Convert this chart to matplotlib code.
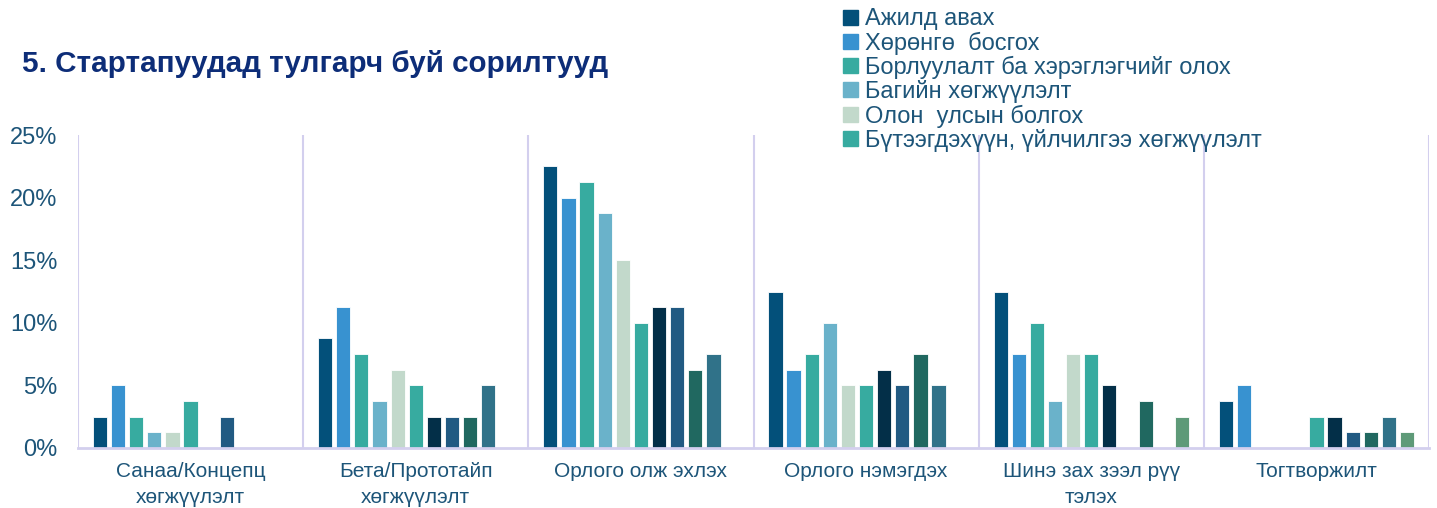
import numpy as np
import matplotlib
matplotlib.use("Agg")
import matplotlib.pyplot as plt
from matplotlib.patches import Patch

plt.rcParams['font.family'] = ['Liberation Sans', 'DejaVu Sans']

categories = ["Санаа/Концепц\nхөгжүүлэлт", "Бета/Прототайп\nхөгжүүлэлт", "Орлого олж эхлэх",
              "Орлого нэмэгдэх", "Шинэ зах зээл рүү\nтэлэх", "Тогтворжилт"]

series_names = ["Ажилд авах", "Хөрөнгө  босгох", "Борлуулалт ба хэрэглэгчийг олох",
                "Багийн хөгжүүлэлт", "Олон  улсын болгох", "Бүтээгдэхүүн, үйлчилгээ хөгжүүлэлт",
                "s7", "s8", "s9", "s10", "s11"]

colors_list = ["#03507A", "#3892D0", "#37ABA0", "#6AB2CA", "#C2D9CB", "#37ABA0",
               "#032F48", "#215A82", "#206860", "#307289", "#5E9A78"]

# values in %, one list per group (11 series each)
g_concept = [2.5, 5, 2.5, 1.25, 1.25, 3.75, 0, 2.5, 0, 0, 0]
g_beta = [8.75, 11.25, 7.5, 3.75, 6.25, 5, 2.5, 2.5, 2.5, 5, 0]
g_revenue_start = [22.5, 20, 21.25, 18.75, 15, 10, 11.25, 11.25, 6.25, 7.5, 0]
g_revenue_grow = [12.5, 6.25, 7.5, 10, 5, 5, 6.25, 5, 7.5, 5, 0]
g_new_market = [12.5, 7.5, 10, 3.75, 7.5, 7.5, 5, 0, 3.75, 0, 2.5]
g_stable = [3.75, 5, 0, 0, 0, 2.5, 2.5, 1.25, 1.25, 2.5, 1.25]

groups = [g_concept, g_beta, g_revenue_start, g_revenue_grow, g_new_market, g_stable]
vals = np.array(groups).T  # series x group

txt_col = "#1D5579"
line_col = "#D3CFEE"

fig = plt.figure(figsize=(14.37, 5.08), dpi=100)
ax = fig.add_axes([78/1437, 60/508, (1429-78)/1437, (448-135)/508])

n = len(series_names)
step = 0.0805
width = 0.063
x = np.arange(len(categories))
for i in range(n):
    off = (i - (n - 1) / 2) * step
    ax.bar(x + 0.5 + off, vals[i], width, color=colors_list[i],
           edgecolor='white', linewidth=0.6, label=series_names[i])

ax.set_xlim(0, len(categories))
ax.set_ylim(0, 25)
ax.set_yticks([0, 5, 10, 15, 20, 25])
ax.set_yticklabels([f"{v}%" for v in [0, 5, 10, 15, 20, 25]])
ax.set_xticks(x + 0.5)
ax.set_xticklabels(categories, linespacing=1.5)
ax.tick_params(axis='y', length=0, pad=15, labelsize=17, labelcolor=txt_col)
ax.tick_params(axis='x', length=0, pad=10, labelsize=15, labelcolor=txt_col)

for s in ['top', 'right', 'left']:
    ax.spines[s].set_visible(False)
ax.spines['bottom'].set_color(line_col)
ax.spines['bottom'].set_linewidth(2)
for b in range(len(categories) + 1):
    ax.axvline(b, color=line_col, lw=1.5, zorder=0)

fig.text(22/1437, 1 - 64/508, "5. Стартапуудад тулгарч буй сорилтууд", fontsize=21.3,
         fontweight='bold', color="#0D2D78", va='center', ha='left')

handles = [Patch(color=colors_list[i]) for i in range(6)]
leg = fig.legend(handles, series_names[:6], loc='upper left',
                 bbox_to_anchor=(834/1437, 1 + 1/508), frameon=False,
                 fontsize=17, handlelength=0.6, handleheight=0.6, handletextpad=0.3,
                 labelspacing=0.05, borderaxespad=0)
for t in leg.get_texts():
    t.set_color(txt_col)

fig.savefig("out.png", dpi=100)
